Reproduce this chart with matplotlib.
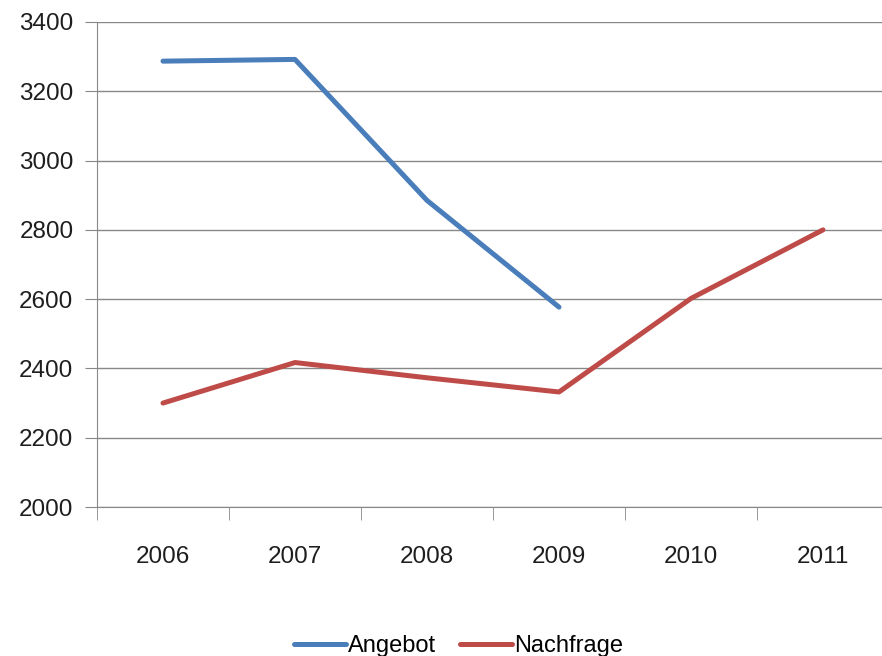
import matplotlib
matplotlib.use('Agg')
import matplotlib.pyplot as plt
from matplotlib import font_manager
from matplotlib.ticker import FixedLocator

years = ['2006', '2007', '2008', '2009', '2010', '2011']
angebot = [3287, 3292, 2885, 2577]
nachfrage = [2300, 2417, 2373, 2332, 2602, 2800]

# narrow font if there is one, like the original Calibri look
names = {f.name for f in font_manager.fontManager.ttflist}
if 'Liberation Sans Narrow' in names:
    plt.rcParams['font.family'] = ['Liberation Sans Narrow', 'DejaVu Sans']
    fs = 21
else:
    plt.rcParams['font.family'] = ['Liberation Sans', 'DejaVu Sans']
    fs = 17.5

fig = plt.figure(figsize=(8.82, 6.56), dpi=100)
ax = fig.add_axes([97/882, 149/656, 792/882, 485/656])

x = list(range(len(years)))
ax.plot(x[:len(angebot)], angebot, color='#4a7ebb', lw=3.6, label='Angebot', solid_capstyle='round')
ax.plot(x, nachfrage, color='#be4b48', lw=3.6, label='Nachfrage', solid_capstyle='round')

ax.set_xlim(-0.5, 5.5)
ax.set_ylim(2000, 3400)
ax.set_yticks(range(2000, 3401, 200))
ax.yaxis.grid(True, color='#888888', lw=1)
ax.set_axisbelow(True)

ax.set_xticks(x)
ax.set_xticklabels(years)
ax.xaxis.set_minor_locator(FixedLocator([i - 0.5 for i in range(7)]))
ax.tick_params(axis='x', which='major', length=0, pad=28, labelsize=fs, colors='#1e1e1e')
ax.tick_params(axis='x', which='minor', length=9, color='#888888', direction='out')
ax.tick_params(axis='y', length=9, color='#888888', pad=8, labelsize=fs, labelcolor='#1e1e1e')

for s in ['top', 'right']:
    ax.spines[s].set_visible(False)
for s in ['left', 'bottom']:
    ax.spines[s].set_color('#888888')

fig.legend(loc='center', bbox_to_anchor=(0.52, 0.015), ncol=2, frameon=False,
           fontsize=fs - 0.5, handlelength=2.2, handletextpad=0.1, columnspacing=1.0)

fig.savefig('out.png', dpi=100)
